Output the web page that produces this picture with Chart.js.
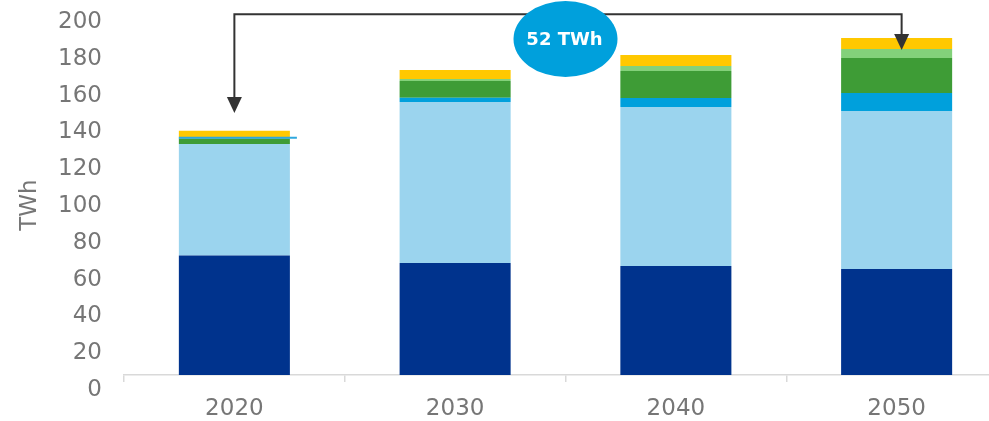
<!DOCTYPE html>
<html>
<head>
<meta charset="utf-8">
<script src="https://cdn.jsdelivr.net/npm/chart.js@4/dist/chart.umd.min.js"></script>
<style>
  html, body { margin: 0; padding: 0; overflow: hidden; background: #ffffff; }
  #wrap { position: relative; width: 1010px; height: 421px; }
</style>
</head>
<body>
<div id="wrap"><canvas id="c" width="1010" height="421"></canvas></div>
<script>
// ---- data ----
const categories = ['2020', '2030', '2040', '2050'];
const seriesNavy      = [65.0, 60.9, 59.2, 57.6];
const seriesLightBlue = [60.6, 87.5, 86.4, 85.9];
const seriesMidBlue   = [0.0, 2.3, 4.9, 9.8];
const seriesGreen     = [3.0, 9.1, 14.7, 19.0];
const seriesLightGreen= [0.8, 1.1, 2.7, 4.9];
const seriesYellow    = [3.3, 4.9, 6.0, 6.0];
const yTicks = [0, 20, 40, 60, 80, 100, 120, 140, 160, 180, 200];
const axisTitle = 'TWh';
const calloutText = '52 TWh';
const bracketLevel = 196;      // value level of the bracket line
const leftArrowTip = 142.4;    // value where left arrow ends
const rightArrowTip = 176.6;   // value where right arrow ends
const calloutLevel = 182.6;    // value level of callout centre

const GRAY = '#767676';
const FONT = "'DejaVu Sans', Verdana, sans-serif";

const annotationPlugin = {
  id: 'annot',
  afterDatasetsDraw(chart) {
    const ctx = chart.ctx;
    const x = chart.scales.x, y = chart.scales.y;
    const ca = chart.chartArea;
    const x0 = x.getPixelForValue(0), x3 = x.getPixelForValue(3);
    const yb = y.getPixelForValue(bracketLevel);
    ctx.save();
    // axis title
    ctx.save();
    ctx.translate(ca.left - 94, (ca.top + ca.bottom) / 2 + 14);
    ctx.rotate(-Math.PI / 2);
    ctx.fillStyle = GRAY;
    ctx.font = '23px ' + FONT;
    ctx.textAlign = 'center';
    ctx.textBaseline = 'middle';
    ctx.fillText(axisTitle, 0, 0);
    ctx.restore();
    // small blue marker line on 2020
    const bar = chart.getDatasetMeta(4).data[0];
    if (bar) {
      const my = (bar.y + bar.base) / 2;
      ctx.strokeStyle = '#2FA8DE';
      ctx.lineWidth = 2;
      ctx.beginPath();
      ctx.moveTo(bar.x - bar.width / 2, my);
      ctx.lineTo(bar.x + bar.width / 2 + 7, my);
      ctx.stroke();
    }
    // bracket
    ctx.strokeStyle = '#333333';
    ctx.fillStyle = '#333333';
    ctx.lineWidth = 2;
    ctx.beginPath();
    const yl = y.getPixelForValue(leftArrowTip);
    const yr = y.getPixelForValue(rightArrowTip);
    ctx.moveTo(x0, yl - 14);
    ctx.lineTo(x0, yb);
    ctx.lineTo(x3 + 5, yb);
    ctx.lineTo(x3 + 5, yr - 14);
    ctx.stroke();
    function head(px, tip) {
      ctx.beginPath();
      ctx.moveTo(px - 7.5, tip - 16);
      ctx.lineTo(px + 7.5, tip - 16);
      ctx.lineTo(px, tip);
      ctx.closePath();
      ctx.fill();
    }
    head(x0, yl);
    head(x3 + 5, yr);
    // callout ellipse
    const cx = (x.getPixelForValue(1) + x.getPixelForValue(2)) / 2;
    const cy = y.getPixelForValue(calloutLevel);
    ctx.fillStyle = '#00A0DC';
    ctx.beginPath();
    ctx.ellipse(cx, cy, 52, 38, 0, 0, Math.PI * 2);
    ctx.fill();
    ctx.fillStyle = '#ffffff';
    ctx.font = 'bold 18px ' + FONT;
    ctx.textAlign = 'center';
    ctx.textBaseline = 'middle';
    ctx.fillText(calloutText, cx - 1, cy + 1);
    ctx.restore();
  }
};

const mk = (label, data, color) => ({ label, data, backgroundColor: color, borderWidth: 0,
  barPercentage: 1.0, categoryPercentage: 0.503 });

new Chart(document.getElementById('c'), {
  type: 'bar',
  data: {
    labels: categories,
    datasets: [
      mk('Navy', seriesNavy, '#00338D'),
      mk('Light blue', seriesLightBlue, '#9BD4EE'),
      mk('Blue', seriesMidBlue, '#00A0DC'),
      mk('Green', seriesGreen, '#3E9C36'),
      mk('Light green', seriesLightGreen, '#83D17A'),
      mk('Yellow', seriesYellow, '#FFC800')
    ]
  },
  options: {
    responsive: false,
    animation: false,
    events: [],
    layout: { padding: { top: 7, right: 3, left: 0, bottom: 0 } },
    plugins: { legend: { display: false }, tooltip: { enabled: false } },
    scales: {
      x: {
        stacked: true,
        border: { display: true, color: '#D9D9D9', width: 1.5 },
        grid: { display: true, drawOnChartArea: false, drawTicks: true, tickLength: 7, color: '#D9D9D9', offset: true, lineWidth: 1.5 },
        ticks: { color: GRAY, font: { family: FONT, size: 23 }, padding: 13 },
        afterFit: (s) => { s.height = 46; s.paddingLeft = 0; s.paddingRight = 0; }
      },
      y: {
        stacked: true,
        min: 0, max: 200,
        afterBuildTicks: (s) => { s.ticks = yTicks.map(v => ({ value: v })); },
        border: { display: false },
        grid: { display: false, drawTicks: false },
        ticks: { color: GRAY, font: { family: FONT, size: 23, lineHeight: 0.6 }, padding: 22, labelOffset: 15 },
        title: { display: false },
        afterFit: (s) => { s.width = 124; s.paddingTop = 0; s.paddingBottom = 0; }
      }
    }
  },
  plugins: [annotationPlugin]
});
</script>
</body>
</html>
